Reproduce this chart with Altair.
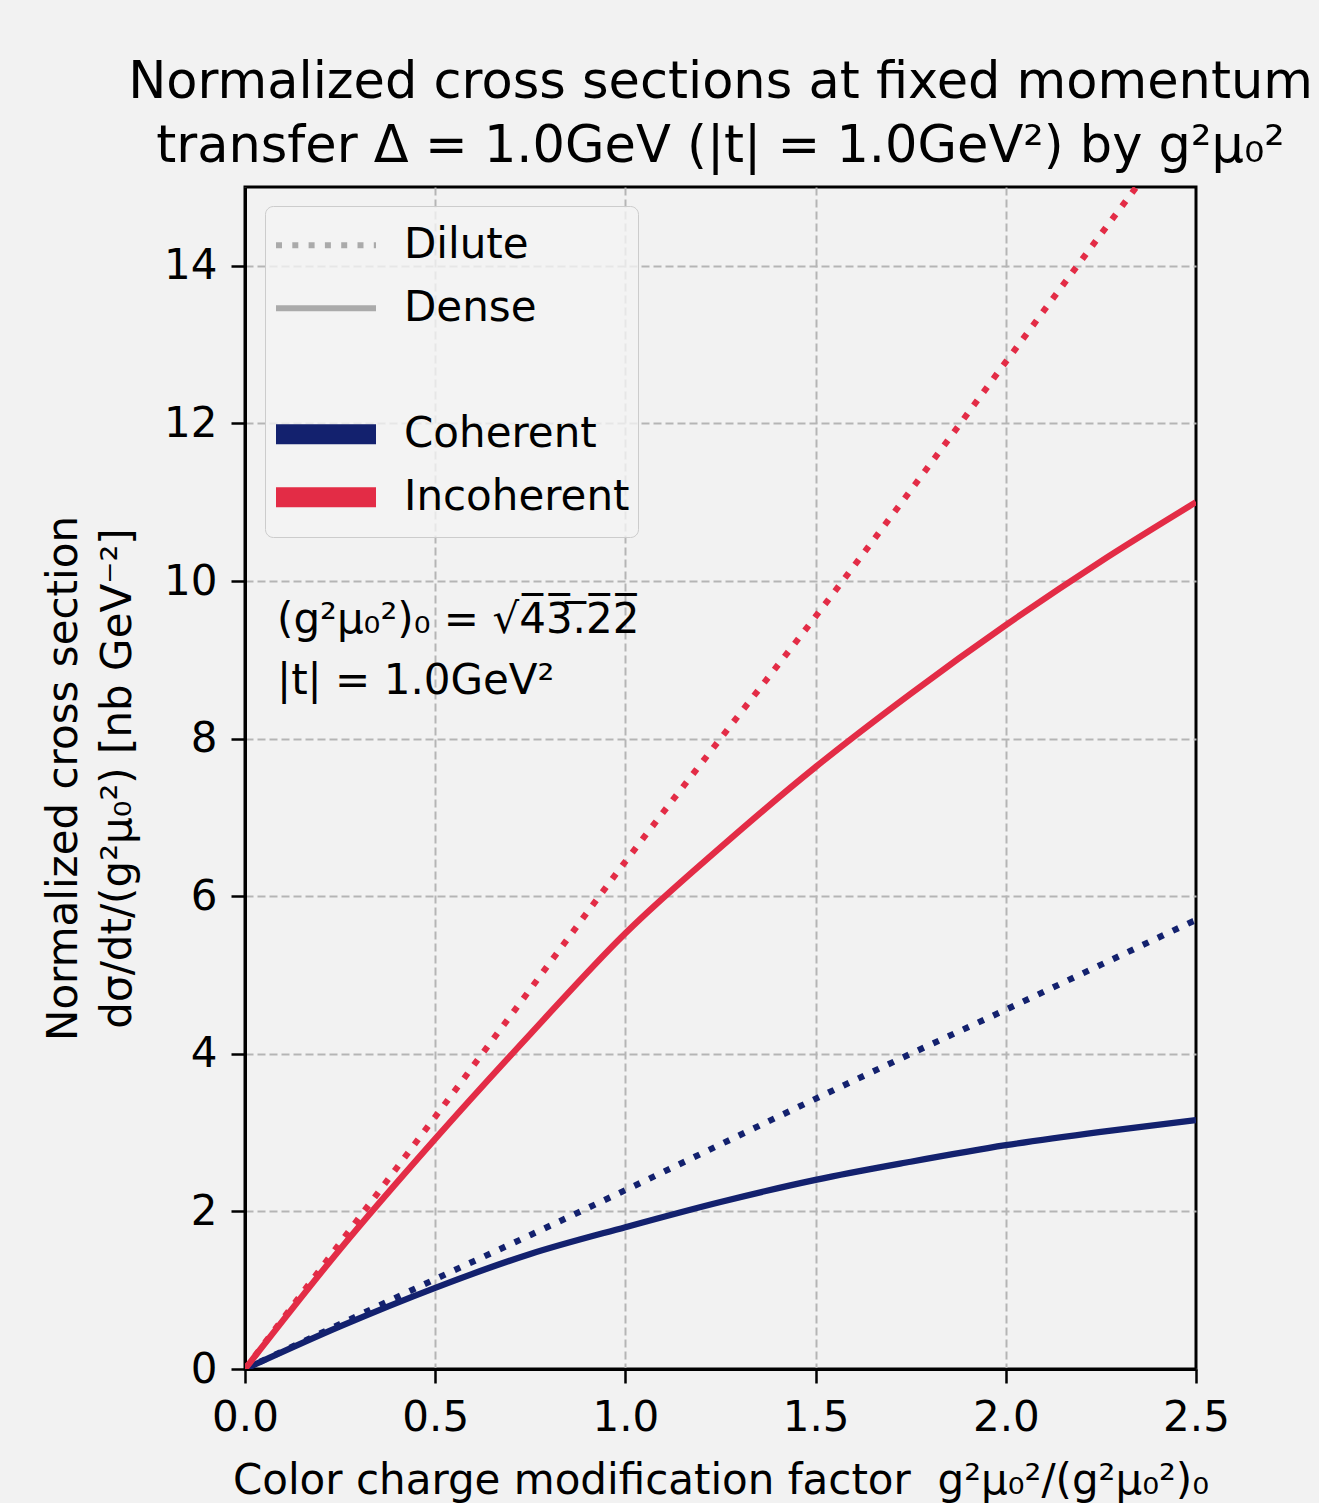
import altair as alt
import pandas as pd

# ---------------- data ----------------
x_vals = [0.0, 0.25, 0.5, 0.75, 1.0, 1.25, 1.5, 1.75, 2.0, 2.25, 2.5]
coherent_dilute = [0.0, 0.57, 1.14, 1.70, 2.27, 2.85, 3.43, 4.00, 4.56, 5.13, 5.70]
coherent_dense = [0.0, 0.54, 1.03, 1.46, 1.80, 2.12, 2.40, 2.63, 2.84, 3.01, 3.16]
incoherent_dilute = [0.0, 1.60, 3.20, 4.82, 6.44, 8.00, 9.55, 11.15, 12.78, 14.40, 16.00]
incoherent_dense = [0.0, 1.52, 2.92, 4.25, 5.53, 6.62, 7.64, 8.57, 9.44, 10.25, 11.00]

legend_entries = ["Dilute", "Dense", " ", "Coherent", "Incoherent"]
legend_colors = ["#aaaaaa", "#aaaaaa", "transparent", "#13216e", "#e32c46"]

x_ticks = [0.0, 0.5, 1.0, 1.5, 2.0, 2.5]
y_ticks = [0, 2, 4, 6, 8, 10, 12, 14]

title_lines = [
    "Normalized cross sections at fixed momentum",
    "transfer \u0394 = 1.0GeV (|t| = 1.0GeV\u00b2) by g\u00b2\u03bc\u2080\u00b2",
]
y_title = [
    "Normalized cross section",
    "d\u03c3/dt/(g\u00b2\u03bc\u2080\u00b2) [nb GeV\u207b\u00b2]",
]
x_title = "Color charge modification factor \u00a0g\u00b2\u03bc\u2080\u00b2/(g\u00b2\u03bc\u2080\u00b2)\u2080"
note_lines = [
    "(g\u00b2\u03bc\u2080\u00b2)\u2080 = \u221a4\u03053\u0305.\u03052\u03052\u0305",
    "|t| = 1.0GeV\u00b2",
]

NAVY = "#13216e"
RED = "#e32c46"

series = [
    ("coh_dilute", coherent_dilute),
    ("coh_dense", coherent_dense),
    ("inc_dilute", incoherent_dilute),
    ("inc_dense", incoherent_dense),
]
rows = []
for name, vals in series:
    for xv, yv in zip(x_vals, vals):
        rows.append({"series": name, "x": xv, "y": yv})
df = pd.DataFrame(rows)

FONT = "DejaVu Sans"

x_enc = alt.X(
    "x:Q",
    scale=alt.Scale(domain=[0, 2.5], nice=False, zero=False),
    axis=alt.Axis(
        values=x_ticks, format=".1f", title=x_title,
        labelFontSize=42, titleFontSize=42, titleFontWeight="normal",
        tickSize=14, tickWidth=2.5, tickColor="black",
        labelPadding=14, titlePadding=22, labelFlush=False, labelOverlap=False,
        domainColor="black", domainWidth=3,
        gridColor="#b5b5b5", gridDash=[8, 4], gridWidth=2,
        gridOpacity={"condition": {"test": "datum.value >= 2.5", "value": 0}, "value": 1},
        labelColor="black", titleColor="black",
    ),
)
y_enc = alt.Y(
    "y:Q",
    scale=alt.Scale(domain=[0, 15], nice=False),
    axis=alt.Axis(
        values=y_ticks, format="d", title=y_title,
        labelFontSize=42, titleFontSize=42, titleFontWeight="normal",
        titleLineHeight=54,
        tickSize=14, tickWidth=2.5, tickColor="black",
        labelPadding=14, titlePadding=24, labelOverlap=False,
        domainColor="black", domainWidth=3,
        gridColor="#b5b5b5", gridDash=[8, 4], gridWidth=2,
        labelColor="black", titleColor="black",
    ),
)

base = alt.Chart(df)
DOT = [6.25, 10.3]


def line_layer(name, color, dash=None):
    kw = dict(color=color, strokeWidth=6.25, clip=True, strokeCap="butt",
              interpolate="monotone")
    if dash is not None:
        kw["strokeDash"] = dash
    return (
        base.transform_filter(alt.datum.series == name)
        .mark_line(**kw)
        .encode(x=x_enc, y=y_enc)
    )


lines = [
    line_layer("coh_dilute", NAVY, DOT),
    line_layer("inc_dilute", RED, DOT),
    line_layer("coh_dense", NAVY),
    line_layer("inc_dense", RED),
]

legend_df = pd.DataFrame({"entry": legend_entries})
legend_layer = (
    alt.Chart(legend_df)
    .transform_filter("false")
    .mark_line()
    .encode(
        x=alt.value(0),
        y=alt.value(0),
        color=alt.Color(
            "entry:N",
            scale=alt.Scale(domain=legend_entries, range=legend_colors),
            legend=alt.Legend(
                title=None, orient="none", legendX=20, legendY=19,
                direction="vertical", symbolType="stroke", symbolSize=10000,
                symbolStrokeWidth={"expr": "(datum.value == 'Coherent' || datum.value == 'Incoherent') ? 20 : 6"},
                symbolDash={"expr": "datum.value == 'Dilute' ? [6, 10.3] : [1, 0]"},
                symbolFillColor="transparent",
                symbolOffset=32, labelOffset=57,
                labelFontSize=42, labelFont=FONT, labelColor="black", labelLimit=600,
                clipHeight=62.5, rowPadding=0, padding=8,
                strokeColor="#cccccc", fillColor="rgba(242,242,242,0.8)",
                cornerRadius=8,
            ),
        ),
    )
)

note = (
    alt.Chart(pd.DataFrame({"k": [0]}))
    .mark_text(
        text=note_lines, align="left", baseline="alphabetic",
        fontSize=42, lineHeight=61, color="black", font=FONT,
    )
    .encode(x=alt.value(32), y=alt.value(446))
)

chart = (
    alt.layer(*lines, note, legend_layer)
    .properties(
        width=951,
        height=1182,
        title=alt.TitleParams(
            text=title_lines, fontSize=51, fontWeight="normal", anchor="middle",
            offset=14, lineHeight=64, color="black", font=FONT,
        ),
        autosize=alt.AutoSizeParams(type="none"),
        padding={"left": 245, "top": 187, "right": 123, "bottom": 134},
        background="#f2f2f2",
    )
    .configure(font=FONT)
    .configure_view(stroke="black", strokeWidth=3)
)

chart.save("out.html", embed_options={"renderer": "svg", "actions": False})
